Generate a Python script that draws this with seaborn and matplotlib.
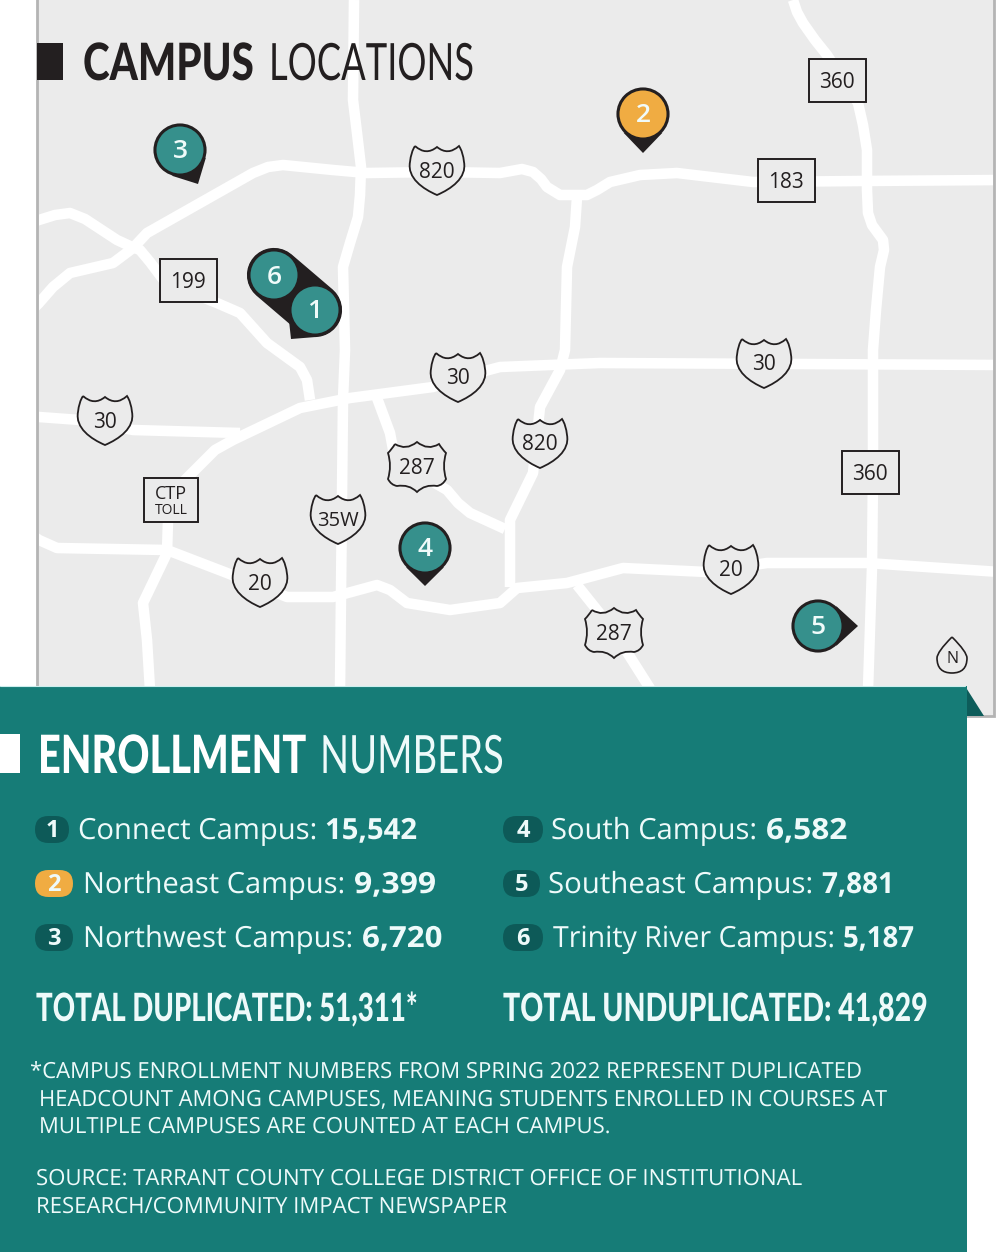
import numpy as np
import pandas as pd
import matplotlib
matplotlib.use("Agg")
import matplotlib.pyplot as plt
from matplotlib.patches import Rectangle, Polygon, PathPatch, FancyBboxPatch
from matplotlib.path import Path
from matplotlib.patheffects import AbstractPathEffect
from matplotlib.transforms import Affine2D
import seaborn as sns

# campuses
campus_names = ["Connect Campus", "Northeast Campus", "Northwest Campus",
                "South Campus", "Southeast Campus", "Trinity River Campus"]
enrollment = [15542, 9399, 6720, 6582, 7881, 5187]
total_duplicated = 51311
total_unduplicated = 41829
pin_x = [315, 643, 180, 425, 818, 274]
pin_y = [310, 114, 150, 548, 626, 275]
tip_x = [291, 643, 198, 425, 858, 274]
tip_y = [339, 153, 184, 586, 626, 275]

# road centre lines
road_820_north = [(28, 314), (39, 303), (53, 287), (70, 273), (113, 263), (133, 248), (147, 233), (200, 203), (253, 173),
                  (268, 167), (283, 165), (333, 170), (367, 173), (437, 172), (500, 173), (522, 169), (533, 172), (541, 179),
                  (547, 187), (560, 195), (587, 195), (597, 190), (610, 182), (640, 175), (677, 173), (753, 182),
                  (860, 181), (1000, 180)]
road_199 = [(28, 224), (39, 220), (55, 215), (70, 213), (85, 219), (117, 240), (130, 246), (140, 250), (150, 262),
            (165, 282), (217, 303), (240, 313), (267, 343), (300, 367), (307, 380), (310, 400)]
road_35w = [(354, 0), (353, 100), (357, 133), (361, 167), (360, 195), (358, 217), (350, 243), (343, 267), (345, 350),
            (343, 400), (340, 690)]
road_30_west = [(28, 417), (39, 417), (80, 420), (133, 430), (240, 433)]
road_30_main = [(180, 485), (215, 450), (233, 440), (300, 408), (350, 398), (433, 387), (470, 375), (500, 367),
                (600, 363), (1000, 365)]
road_287_north = [(377, 398), (390, 433), (395, 460), (447, 490), (458, 503), (470, 513), (505, 529)]
road_820_south = [(577, 197), (575, 227), (567, 267), (565, 350), (560, 370), (540, 407), (533, 473), (510, 520),
                  (510, 587)]
road_20 = [(28, 532), (39, 540), (57, 548), (167, 550), (227, 573), (287, 597), (333, 597), (377, 585), (390, 590),
           (407, 603), (450, 610), (500, 603), (517, 588), (567, 583), (623, 568), (707, 572), (767, 563), (867, 563),
           (1000, 572)]
road_ctp = [(168, 520), (167, 553), (143, 603), (147, 640), (150, 690)]
road_287_south = [(577, 585), (613, 630), (651, 690)]
road_360 = [(793, 0), (797, 12), (803, 23), (815, 40), (827, 55), (858, 103), (863, 125), (867, 150), (867, 190),
            (868, 213), (872, 225), (883, 240), (884, 250), (880, 267), (876, 310), (873, 350), (873, 473), (872, 567),
            (868, 690)]

# highway signs
interstate_labels = ["820", "30", "30", "30", "820", "35W", "20", "20"]
interstate_x = [437, 458, 764, 105, 540, 338, 260, 731]
interstate_y = [170, 377, 363, 420, 443, 519, 582, 569]
us_labels = ["287", "287"]
us_x = [417, 614]
us_y = [466, 632]
state_labels = ["199", "360", "183", "360"]
state_x = [188, 837, 786, 870]
state_y = [280, 80, 180, 472]

# footnotes
note_lines = ["*CAMPUS ENROLLMENT NUMBERS FROM SPRING 2022 REPRESENT DUPLICATED",
              "HEADCOUNT AMONG CAMPUSES, MEANING STUDENTS ENROLLED IN COURSES AT",
              "MULTIPLE CAMPUSES ARE COUNTED AT EACH CAMPUS."]
source_lines = ["SOURCE: TARRANT COUNTY COLLEGE DISTRICT OFFICE OF INSTITUTIONAL",
                "RESEARCH/COMMUNITY IMPACT NEWSPAPER"]

MAP_GREY = "#ebebeb"
TEAL = "#167c77"
PIN_TEAL = "#36908c"
ORANGE = "#f0ac42"
DARK = "#231f20"
BADGE = "#0d5a58"
LIGHT = "#eefafa"
BODY = "Open Sans"
HEAD = "Lato"

sns.set_theme(style="white")
fig = plt.figure(figsize=(10, 12.52), dpi=100)
ax = fig.add_axes([0, 0, 1, 1])
ax.set_xlim(0, 1000)
ax.set_ylim(1252, 0)
ax.set_axis_off()
renderer = fig.canvas.get_renderer()


# no condensed fonts here: set the size from the width, then stretch the glyphs upward when drawn
class Stretch(AbstractPathEffect):
    def __init__(self, sy):
        super().__init__()
        self.sy = sy

    def draw_path(self, rend, gc, tpath, affine, rgbFace=None):
        rend.draw_path(gc, tpath, Affine2D().scale(1, self.sy) + affine, rgbFace)


def fit_text(x0, x1, y, s, fontsize, zorder=11, **kw):
    t = ax.text(x0, y, s, va="baseline", ha="left", fontsize=fontsize, zorder=zorder, **kw)
    sx = (x1 - x0) / t.get_window_extent(renderer).width
    t.set_fontsize(fontsize * sx)
    t.set_path_effects([Stretch(1 / sx)])
    return t


# map base
base = Rectangle((37, -5), 957, 721, fc=MAP_GREY, ec="#b4b4b4", lw=2, zorder=1)
ax.add_patch(base)

# roads
for road in [road_820_north, road_199, road_35w, road_30_west, road_30_main, road_287_north,
             road_820_south, road_20, road_ctp, road_287_south, road_360]:
    df = pd.DataFrame(road, columns=["x", "y"])
    sns.lineplot(data=df, x="x", y="y", sort=False, estimator=None, color="white", linewidth=7.6,
                 solid_joinstyle="round", solid_capstyle="butt", zorder=2, ax=ax)
    ax.lines[-1].set_clip_path(Rectangle((38.5, -5), 954, 721, transform=ax.transData))


def interstate_shield(cx, cy):
    verts = [(-22, -24), (-11, -14), (0, -23), (11, -14), (22, -24), (26, -18), (27, -8),
             (30, 8), (14, 19), (0, 25), (-14, 19), (-30, 8), (-27, -8), (-26, -18), (-22, -24)]
    codes = [Path.MOVETO, Path.CURVE3, Path.CURVE3, Path.CURVE3, Path.CURVE3, Path.CURVE3, Path.CURVE3,
             Path.CURVE4, Path.CURVE4, Path.CURVE4, Path.CURVE4, Path.CURVE4, Path.CURVE4, Path.CURVE3, Path.CURVE3]
    return Path([(cx + a, cy + b) for a, b in verts], codes)


def us_shield(cx, cy):
    verts = [(-22, -22), (-11, -15), (0, -24), (11, -15), (22, -22), (25, -17), (29, -13),
             (25, 0), (29, 13), (26, 19), (20, 20), (8, 18), (0, 26), (-8, 18), (-20, 20),
             (-26, 19), (-29, 13), (-25, 0), (-29, -13), (-25, -17), (-22, -22)]
    codes = [Path.MOVETO] + [Path.CURVE3] * 20
    return Path([(cx + a, cy + b) for a, b in verts], codes)


for lab, x, y in zip(interstate_labels, interstate_x, interstate_y):
    ax.add_patch(PathPatch(interstate_shield(x, y), fc=MAP_GREY, ec=DARK, lw=1.3, zorder=3))
    ax.text(x, y + 2, lab, family=BODY, fontsize=14.5 if lab == "35W" else 15, color=DARK, ha="center", va="center", zorder=4)
for lab, x, y in zip(us_labels, us_x, us_y):
    ax.add_patch(PathPatch(us_shield(x, y), fc=MAP_GREY, ec=DARK, lw=1.3, zorder=3))
    ax.text(x, y + 3, lab, family=BODY, fontsize=15, color=DARK, ha="center", va="center", zorder=4)
for lab, x, y in zip(state_labels, state_x, state_y):
    ax.add_patch(Rectangle((x - 28.5, y - 21.5), 57, 43, fc=MAP_GREY, ec=DARK, lw=1.4, zorder=3))
    ax.text(x, y + 3, lab, family=BODY, fontsize=15, color=DARK, ha="center", va="center", zorder=4)

# CTP toll sign
ax.add_patch(Rectangle((144, 478), 54, 44, fc=MAP_GREY, ec=DARK, lw=1.4, zorder=3))
ax.text(171, 494, "CTP", family=BODY, fontsize=13, color=DARK, ha="center", va="center", zorder=4)
ax.text(171, 510, "TOLL", family=BODY, fontsize=10, color=DARK, ha="center", va="center", zorder=4)

# north arrow
north = Path([(952, 637), (967, 652), (967, 658), (967, 673), (952, 673), (937, 673), (937, 658), (937, 652),
              (952, 637)],
             [Path.MOVETO, Path.CURVE3, Path.CURVE3, Path.CURVE3, Path.CURVE3, Path.CURVE3, Path.CURVE3,
              Path.CURVE3, Path.CURVE3])
ax.add_patch(PathPatch(north, fc=MAP_GREY, ec=DARK, lw=1.2, zorder=3))
ax.text(952, 659, "N", family=BODY, fontsize=11.5, color=DARK, ha="center", va="center", zorder=4)

# pins: tails first, then the circles on top
pins = pd.DataFrame({"campus": campus_names, "x": pin_x, "y": pin_y})
ax.plot([pin_x[5], pin_x[0]], [pin_y[5], pin_y[0]], color=DARK, lw=39, solid_capstyle="round", zorder=5)
for x, y, tx, ty in zip(pin_x, pin_y, tip_x, tip_y):
    d = np.hypot(tx - x, ty - y)
    if d == 0:
        continue
    ang = np.arctan2(ty - y, tx - x)
    off = np.arccos(27 / d)
    ax.add_patch(Polygon([(tx, ty),
                          (x + 27 * np.cos(ang + off), y + 27 * np.sin(ang + off)),
                          (x + 27 * np.cos(ang - off), y + 27 * np.sin(ang - off))],
                         fc=DARK, ec="none", zorder=5))
colors = {c: (ORANGE if c == "Northeast Campus" else PIN_TEAL) for c in campus_names}
sns.scatterplot(data=pins, x="x", y="y", hue="campus", palette=colors, s=1300, edgecolor=DARK, linewidth=2.2,
                legend=False, zorder=6, ax=ax)
for i, (x, y) in enumerate(zip(pin_x, pin_y)):
    ax.text(x, y + 2, str(i + 1), family=BODY, fontsize=19, fontweight="semibold", color="#f0fbfa",
            ha="center", va="center", zorder=7)

# map title
ax.add_patch(Rectangle((37, 43), 26, 37, fc=DARK, ec="none", zorder=8))
fit_text(83, 254, 80, "CAMPUS", 37, family=HEAD, fontweight="black", color=DARK, zorder=8)
fit_text(269, 474, 80, "LOCATIONS", 37, family=HEAD, fontweight="normal", color=DARK, zorder=8)

# teal panel
ax.add_patch(Polygon([(965, 686), (984, 716), (965, 716)], fc="#0d5c5a", ec="none", zorder=8))
ax.add_patch(Rectangle((0, 686), 967, 570, fc=TEAL, ec="none", zorder=9))
ax.plot([0, 965], [685.5, 685.5], color="#cdeeee", lw=0.8, zorder=9)
ax.add_patch(Rectangle((0, 734), 20, 39, fc="white", ec="none", zorder=10))
fit_text(38, 306, 773, "ENROLLMENT", 38, family=HEAD, fontweight="black", color="white", zorder=10)
fit_text(320, 504, 773, "NUMBERS", 38, family=HEAD, fontweight="normal", color=LIGHT, zorder=10)

# campus list
row_base = [839, 893, 947, 839, 893, 947]
badge_x0 = [35, 35, 35, 503, 503, 503]
badge_x1 = [69, 73, 73, 543, 540, 543]
label_x0 = [78, 83, 83, 551, 548, 553]
label_x1 = [317, 345, 353, 757, 813, 835]
value_x0 = [325, 354, 362, 766, 822, 843]
value_x1 = [417, 436, 442, 847, 894, 914]
for i, name in enumerate(campus_names):
    fill = ORANGE if i == 1 else BADGE
    y = row_base[i] - 23
    ax.add_patch(FancyBboxPatch((badge_x0[i], y), badge_x1[i] - badge_x0[i], 27, boxstyle="round,pad=0,rounding_size=13.5",
                                fc=fill, ec="none", zorder=10))
    ax.text((badge_x0[i] + badge_x1[i]) / 2, y + 15, str(i + 1), family=BODY, fontsize=17, fontweight="bold",
            color=LIGHT, ha="center", va="center", zorder=11)
    fit_text(label_x0[i], label_x1[i], row_base[i], name + ":", 21, family=BODY, fontweight="medium", color=LIGHT)
    fit_text(value_x0[i], value_x1[i], row_base[i], f"{enrollment[i]:,}", 21, family=BODY, fontweight="bold",
             color=LIGHT)

# totals
fit_text(36, 418, 1021, f"TOTAL DUPLICATED: {total_duplicated:,}*", 28, family=HEAD, fontweight="black", color=LIGHT)
fit_text(503, 928, 1021, f"TOTAL UNDUPLICATED: {total_unduplicated:,}", 28, family=HEAD, fontweight="black", color=LIGHT)

# notes
for line, x0, x1, y in zip(note_lines, [30, 39, 39], [860, 886, 610], [1078, 1106, 1133]):
    fit_text(x0, x1, y, line, 16, family=BODY, fontweight="medium", color=LIGHT)
for line, x1, y in zip(source_lines, [802, 506], [1185, 1213]):
    fit_text(36, x1, y, line, 16, family=BODY, fontweight="medium", color=LIGHT)

fig.savefig("out.png", dpi=100)
